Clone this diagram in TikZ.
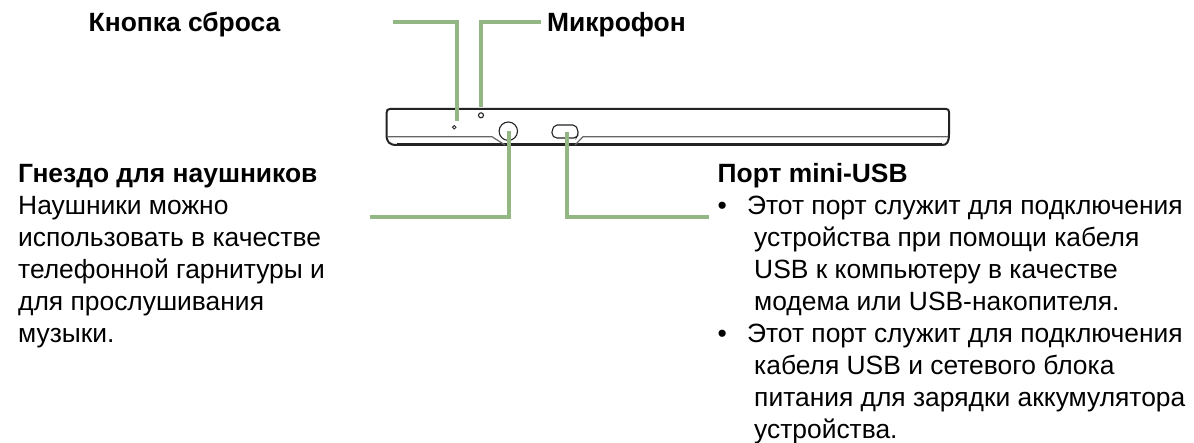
\documentclass[tikz,border=0pt]{standalone}
\usepackage{fontspec}
\setmainfont{Liberation Sans}
\definecolor{leadgreen}{RGB}{147,183,130}
\definecolor{bodygray}{RGB}{35,35,35}
\tikzset{
  callout/.style={line width=4.7pt, draw=leadgreen},
  thinline/.style={line width=1.1pt, draw=bodygray},
  seam/.style={line width=1.2pt, draw=bodygray!70},
  body/.style={line width=2pt, draw=bodygray},
  txt/.style={inner sep=0pt, anchor=base west, font=\fontsize{26.4}{32}\selectfont},
  para/.style={inner sep=0pt, anchor=north west, align=left, font=\fontsize{26.4}{32}\selectfont},
  head/.style={txt, font=\fontsize{26.4}{32}\selectfont\bfseries}
}

\begin{document}
\begin{tikzpicture}[x=1pt, y=-1pt]
  \useasboundingbox (0,0) rectangle (1194,443);

  \coordinate (rst1) at (393, 22);
  \coordinate (rst2) at (457, 22);
  \coordinate (rst3) at (457, 121);

  \coordinate (mic1) at (541, 22);
  \coordinate (mic2) at (481, 22);
  \coordinate (mic3) at (481, 107);

  \coordinate (hp1) at (370, 217);
  \coordinate (hp2) at (509, 217);
  \coordinate (hp3) at (509, 131);

  \coordinate (usb1) at (709, 217);
  \coordinate (usb2) at (567, 217);
  \coordinate (usb3) at (567, 132);

  % body of the device
  \draw[body] (386.5,113) -- (386.5,134) .. controls (386.5,142) and (389,145) .. (397,145)
     -- (942,145) .. controls (947,145) and (949,142) .. (949,134) -- (949,112) .. controls (949,110) and (948,109) .. (946,109)
     -- (390,109) .. controls (388,109) and (386.5,110) .. (386.5,113) -- cycle;
  \draw[line width=3pt, draw=bodygray] (397,145) -- (942,145);
  \draw[seam] (387,136.7) -- (492,136.7) -- (505,145);
  \draw[seam] (948,136.7) -- (583,136.7) -- (575,145);

  \draw[thinline, line width=0.8pt] (454.3,127.3) circle (1.8);
  \draw[thinline] (481,115.3) circle (2.5);
  \draw[thinline, fill=white] (508.3,131.2) circle (9.2);
  \draw[thinline, fill=white, rounded corners=2pt] (555,125) -- (575,125) -- (578,130) -- (578,135) -- (576,138) -- (555,138) -- (552,135) -- (552,130) -- cycle;

  \draw[callout] (rst1) -- (rst2) -- (rst3);
  \draw[callout] (mic1) -- (mic2) -- (mic3);
  \draw[callout] (hp1) -- (hp2) -- (hp3);
  \draw[callout] (usb1) -- (usb2) -- (usb3);

  \node[head] (resetlabel) at (88.5, 32) {Кнопка сброса};
  \node[head] (miclabel) at (547, 32) {Микрофон};

  \node[head] (hplabel) at (18, 183) {Гнездо для наушников};
  \node[para] (hptext) at (18, 196) {Наушники можно\\использовать в качестве\\телефонной гарнитуры и\\для прослушивания\\музыки.};

  \node[head] (usblabel) at (717.5, 183) {Порт mini-USB};
  \node[txt] (bullet1) at (717.5, 215) {•};
  \node[para] (usbtext1) at (754, 196) {\hspace*{-7pt}Этот порт служит для подключения\\устройства при помощи кабеля\\USB к компьютеру в качестве\\модема или USB-накопителя.};
  \node[txt] (bullet2) at (717.5, 343) {•};
  \node[para] (usbtext2) at (754, 324) {\hspace*{-7pt}Этот порт служит для подключения\\кабеля USB и сетевого блока\\питания для зарядки аккумулятора\\устройства.};
\end{tikzpicture}
\end{document}
